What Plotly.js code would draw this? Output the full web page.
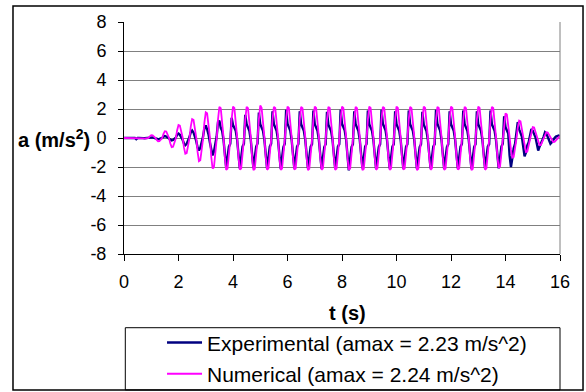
<!DOCTYPE html>
<html>
<head>
<meta charset="utf-8">
<script src="https://cdn.plot.ly/plotly-3.0.1.min.js"></script>
<style>
  html, body { margin: 0; padding: 0; background: #ffffff; }
  #chart { width: 586px; height: 392px; }
</style>
</head>
<body>
<div id="chart"></div>
<script>
// Sampling interval of both acceleration records (s)
const dt = 0.05;

// Measured acceleration, m/s^2 (one row = 0.5 s)
const experimental = [
  0, 0, 0, 0, 0, 0, 0, 0, 0, -0.08,
  0, 0, 0.01, 0, -0.01, -0.02, -0.01, 0, 0.01, 0.03,
  0.05, 0.04, 0.01, -0.02, -0.06, -0.08, -0.06, -0.04, 0, 0.1,
  0.13, 0.1, 0.04, -0.04, -0.13, -0.17, -0.14, -0.08, 0.02, 0.22,
  0.3, 0.22, 0.08, -0.12, -0.38, -0.5, -0.4, -0.22, 0.05, 0.4,
  0.52, 0.38, 0.15, -0.2, -0.65, -0.86, -0.68, -0.38, 0.08, 0.68,
  0.86, 0.6, 0.25, -0.3, -0.9, -1.2, -0.95, -0.5, 0.1, 1.1,
  1.2, 0.7, 0.5, -0.1, -1.25, -2.05, -1.3, -0.6, -0.4, 1.4,
  0.9, 0.7, 0.5, -0.1, -1.3, -2.1, -1.35, -0.6, -0.4, 1.6,
  0.95, 0.7, 0.5, -0.1, -1.28, -2.08, -1.33, -0.6, -0.38, 1.75,
  0.95, 0.7, 0.5, -0.1, -1.3, -2.1, -1.35, -0.6, -0.4, 1.85,
  0.95, 0.72, 0.5, -0.1, -1.32, -2.12, -1.36, -0.62, -0.4, 1.95,
  0.98, 0.72, 0.52, -0.1, -1.3, -2.1, -1.35, -0.6, -0.41, 1.85,
  0.95, 0.68, 0.5, -0.1, -1.28, -2.08, -1.34, -0.6, -0.42, 1.9,
  0.95, 0.7, 0.5, -0.1, -1.32, -2.12, -1.36, -0.62, -0.43, 1.8,
  0.92, 0.68, 0.48, -0.1, -1.3, -2.1, -1.35, -0.6, -0.42, 1.95,
  0.98, 0.72, 0.52, -0.1, -1.35, -2.23, -1.4, -0.62, -0.42, 1.85,
  0.95, 0.7, 0.5, -0.1, -1.3, -2.1, -1.35, -0.6, -0.41, 1.9,
  0.95, 0.7, 0.5, -0.1, -1.32, -2.12, -1.36, -0.62, -0.42, 1.95,
  0.98, 0.72, 0.52, -0.1, -1.3, -2.1, -1.35, -0.6, -0.42, 1.85,
  0.95, 0.69, 0.5, -0.1, -1.31, -2.11, -1.35, -0.61, -0.42, 1.9,
  0.95, 0.7, 0.5, -0.1, -1.32, -2.12, -1.36, -0.62, -0.43, 1.8,
  0.92, 0.68, 0.48, -0.1, -1.3, -2.1, -1.35, -0.6, -0.42, 1.95,
  0.98, 0.72, 0.52, -0.1, -1.33, -2.13, -1.37, -0.62, -0.42, 1.85,
  0.95, 0.7, 0.5, -0.1, -1.3, -2.1, -1.35, -0.6, -0.41, 1.9,
  0.95, 0.7, 0.5, -0.1, -1.32, -2.12, -1.36, -0.62, -0.42, 1.85,
  0.95, 0.69, 0.5, -0.1, -1.3, -2.1, -1.35, -0.6, -0.42, 1.9,
  0.95, 0.7, 0.5, -0.1, -1.3, -2.1, -1.35, -0.6, -0.4, 1.5,
  0.75, 0.55, 0.3, -1.2, -2.0, -1.4, -0.7, -0.4, 0.2, 1.1,
  0.6, 0.4, 0.1, -0.6, -1.27, -1.0, -0.5, -0.3, 0.1, 0.63,
  0.5, 0.3, 0.05, -0.4, -0.86, -0.6, -0.3, -0.15, 0.1, 0.4,
  0.3, 0.1, -0.2, -0.4, -0.3, -0.1, 0, 0.1, 0.15, 0.17,
  0.1
];

// Computed acceleration, m/s^2 (one row = 0.5 s)
const numerical = [
  0, 0, 0, 0, 0, 0, 0, 0, 0, 0,
  0, 0.01, 0.02, 0.01, -0.02, -0.04, -0.03, -0.02, 0, 0.12,
  0.2, 0.19, 0.11, 0.01, -0.13, -0.22, -0.21, -0.12, -0.01, 0.28,
  0.47, 0.45, 0.26, 0.02, -0.38, -0.63, -0.6, -0.35, -0.03, 0.54,
  0.9, 0.86, 0.5, 0.05, -0.65, -1.08, -1.04, -0.59, -0.05, 0.78,
  1.3, 1.25, 0.72, 0.07, -0.96, -1.6, -1.54, -0.88, -0.08, 1.06,
  1.77, 1.7, 0.97, 0.09, -1.26, -2.1, -2.02, -1.16, -0.11, 1.29,
  2.15, 2.06, 1.18, 0.11, -1.32, -2.2, -2.11, -1.21, -0.11, 1.3,
  2.16, 2.08, 1.19, 0.1, -1.3, -2.18, -2.1, -1.2, -0.1, 1.28,
  2.14, 2.05, 1.17, 0.11, -1.33, -2.21, -2.12, -1.22, -0.12, 1.3,
  2.24, 2.08, 1.2, 0.1, -1.31, -2.19, -2.1, -1.2, -0.1, 1.29,
  2.15, 2.07, 1.18, 0.11, -1.32, -2.2, -2.11, -1.21, -0.11, 1.3,
  2.16, 2.07, 1.19, 0.1, -1.31, -2.18, -2.1, -1.2, -0.1, 1.29,
  2.15, 2.06, 1.18, 0.11, -1.33, -2.21, -2.12, -1.22, -0.11, 1.3,
  2.17, 2.08, 1.19, 0.1, -1.31, -2.19, -2.1, -1.2, -0.1, 1.29,
  2.15, 2.07, 1.18, 0.11, -1.32, -2.2, -2.11, -1.21, -0.11, 1.3,
  2.16, 2.07, 1.19, 0.1, -1.31, -2.18, -2.1, -1.2, -0.1, 1.29,
  2.15, 2.06, 1.18, 0.11, -1.33, -2.21, -2.12, -1.22, -0.11, 1.3,
  2.17, 2.08, 1.19, 0.1, -1.31, -2.19, -2.1, -1.2, -0.1, 1.29,
  2.15, 2.07, 1.18, 0.11, -1.32, -2.2, -2.11, -1.21, -0.11, 1.3,
  2.16, 2.07, 1.19, 0.1, -1.31, -2.18, -2.1, -1.2, -0.1, 1.29,
  2.15, 2.06, 1.18, 0.11, -1.33, -2.21, -2.12, -1.22, -0.11, 1.3,
  2.17, 2.08, 1.19, 0.1, -1.31, -2.19, -2.1, -1.2, -0.1, 1.29,
  2.15, 2.07, 1.18, 0.11, -1.32, -2.2, -2.11, -1.21, -0.11, 1.3,
  2.16, 2.07, 1.19, 0.1, -1.31, -2.18, -2.1, -1.2, -0.1, 1.29,
  2.15, 2.06, 1.18, 0.11, -1.33, -2.21, -2.12, -1.22, -0.11, 1.3,
  2.17, 2.08, 1.19, 0.1, -1.31, -2.19, -2.1, -1.2, -0.1, 1.29,
  2.15, 2.07, 1.18, 0.1, -1.23, -2.05, -1.97, -1.13, -0.1, 1.02,
  1.7, 1.63, 0.94, 0.08, -0.82, -1.36, -1.31, -0.75, -0.07, 0.72,
  1.2, 1.15, 0.66, 0.06, -0.58, -0.97, -0.93, -0.53, -0.05, 0.45,
  0.75, 0.72, 0.41, 0.04, -0.3, -0.5, -0.48, -0.28, -0.03, 0.24,
  0.4, 0.38, 0.22, 0.02, -0.17, -0.28, -0.27, -0.15, -0.01, 0.1,
  0.15
];

const seriesNames = [
  'Experimental (amax = 2.23 m/s^2)',
  'Numerical (amax = 2.24 m/s^2)'
];
const xTicks = [0, 2, 4, 6, 8, 10, 12, 14, 16];
const yTicks = [-8, -6, -4, -2, 0, 2, 4, 6, 8];

// Time stamps of the samples
const time = experimental.map((_, i) => +(i * dt).toFixed(2));

const font = 'Arial, "Liberation Sans", sans-serif';

const traces = [
  {
    x: time, y: experimental, name: seriesNames[0], type: 'scatter', mode: 'lines',
    line: { color: '#000080', width: 2.4 }, legendgroup: 'a'
  },
  {
    x: time, y: numerical, name: seriesNames[1], type: 'scatter', mode: 'lines',
    line: { color: '#ff00ff', width: 1.8 }, legendgroup: 'b'
  }
];

const layout = {
  width: 586, height: 392,
  margin: { l: 124, r: 26, t: 22, b: 138, pad: 0 },
  paper_bgcolor: '#ffffff', plot_bgcolor: '#ffffff',
  font: { family: font, color: '#000000', size: 18 },
  showlegend: true,
  xaxis: {
    range: [0, 16], tickvals: xTicks, ticktext: xTicks.map(String),
    showgrid: false, zeroline: false,
    showline: true, linecolor: '#000000', linewidth: 1,
    ticks: 'outside', ticklen: 6, tickcolor: '#000000', tickwidth: 1,
    tickfont: { family: font, size: 18, color: '#000000' },
    ticklabelstandoff: 5
  },
  yaxis: {
    range: [-8, 8], tickvals: yTicks, ticktext: yTicks.map(String),
    showgrid: true, gridcolor: '#808080', gridwidth: 1, zeroline: false,
    showline: true, linecolor: '#000000', linewidth: 1,
    ticks: 'outside', ticklen: 5, tickcolor: '#000000', tickwidth: 1,
    tickfont: { family: font, size: 18, color: '#000000' },
    ticklabelstandoff: 8
  },
  legend: {
    xref: 'paper', yref: 'container',
    x: 0.0872, y: 0.1778, xanchor: 'left', yanchor: 'top',
    bgcolor: 'rgba(0,0,0,0)', borderwidth: 0,
    font: { family: font, size: 21, color: '#000000' },
    tracegroupgap: 1, itemwidth: 35
  },
  annotations: [
    {
      text: '<b>a (m/s<sup>2</sup>)</b>', xref: 'paper', yref: 'paper',
      x: -0.2477, y: 0.5, xanchor: 'left', yanchor: 'middle', showarrow: false,
      font: { family: font, size: 20, color: '#000000' }
    },
    {
      text: '<b>t (s)</b>', xref: 'paper', yref: 'paper',
      x: 0.5126, y: -0.253, xanchor: 'center', yanchor: 'middle', showarrow: false,
      font: { family: font, size: 20, color: '#000000' }
    }
  ],
  shapes: [
    // right edge of the plotting area
    { type: 'line', xref: 'paper', yref: 'paper', x0: 1, x1: 1, y0: 0, y1: 1,
      line: { color: '#808080', width: 1 } },
    // legend frame
    { type: 'rect', xref: 'paper', yref: 'paper', x0: 0.003, x1: 1.0, y0: -0.586, y1: -0.3177,
      line: { color: '#000000', width: 1 } },
    // chart frame
    { type: 'rect', xref: 'paper', yref: 'paper', x0: -0.2546, x1: 1.0528, y0: -0.586, y1: 1.069,
      line: { color: '#000000', width: 1.5 } }
  ]
};

Plotly.newPlot('chart', traces, layout, { staticPlot: true, displayModeBar: false });
</script>
</body>
</html>
